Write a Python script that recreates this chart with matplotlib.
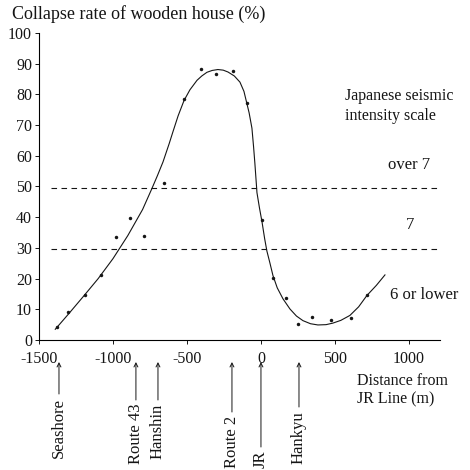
import matplotlib
matplotlib.use("Agg")
import matplotlib.pyplot as plt

plt.rcParams['font.family'] = ['Liberation Serif', 'DejaVu Serif']
plt.rcParams['axes.unicode_minus'] = False

# observed data points (distance from JR line [m], collapse rate [%])
obs_x = [-1378, -1304, -1189, -1081, -980, -885, -790, -655, -520, -405, -304,
         -189, -95, 7, 81, 169, 250, 345, 473, 608, 716]
obs_y = [4.2, 9.2, 14.7, 21.2, 33.7, 39.9, 34, 51, 78.4, 88.2, 86.6,
         87.6, 77.1, 39, 20.3, 13.7, 5.2, 7.5, 6.5, 7.2, 14.7]

# fitted curve
curve_x = [-1390, -1300, -1200, -1100, -1000, -900, -800, -740, -700, -662, -620,
           -595, -560, -520, -480, -432, -400, -365, -330, -291, -255, -223,
           -180, -142, -115, -95, -80, -61, -50, -41, -27, -10, 7, 25, 40, 61,
           81, 110, 149, 196, 240, 284, 335, 385, 440, 486, 540, 601, 660, 716,
           780, 838]
curve_y = [3.5, 8.5, 14.2, 20, 26.5, 34, 42.5, 49, 53.5, 58, 64,
           67.8, 73, 78, 81.5, 84.6, 86, 87.2, 87.8, 88.1, 87.9, 87.3,
           86, 84, 81, 77, 74, 69, 63, 57.5, 48, 43, 38.5, 33, 29, 25,
           21, 17, 13.4, 10.1, 7.8, 6.3, 5.3, 4.9, 5, 5.5, 6.4, 8, 10.8, 14.5,
           17.8, 21.2]

# seismic intensity boundaries
bound_y = [49.5, 29.5]
zone_labels = ["over 7", "7", "6 or lower"]
zone_x = [1000, 1010, 1100]
zone_y = [56.9, 37.3, 14.7]

# landmarks
land_names = ["Seashore", "Route 43", "Hanshin", "Route 2", "JR", "Hankyu"]
land_x = [-1365, -845, -696, -196, 0, 257]
land_text_top = [398, 404, 404, 416, 451, 411]  # pixel rows for text tops

x_ticks = [-1500, -1000, -500, 0, 500, 1000]
x_tick_labels = ["-1500", "-1000", "-500", "0", "500", "1000"]
y_ticks = [0, 10, 20, 30, 40, 50, 60, 70, 80, 90, 100]

W = H = 470
fig = plt.figure(figsize=(4.7, 4.7), dpi=100)
ax = fig.add_axes([39 / W, (W - 340) / W, (440 - 39) / W, (340 - 33) / H])
ax.set_xlim(-1500, 1210)
ax.set_ylim(0, 100)
ink = '#151515'

ax.plot(curve_x, curve_y, color=ink, lw=0.8)
ax.plot(obs_x, obs_y, 'o', color=ink, ms=2.5, mew=0)
for b in bound_y:
    ax.plot([-1420, 1210], [b, b], color=ink, lw=0.8, ls=(0, (5, 4)))

for sp in ['top', 'right']:
    ax.spines[sp].set_visible(False)
ax.spines['left'].set_linewidth(0.8)
ax.spines['bottom'].set_linewidth(0.8)
ax.set_xticks(x_ticks)
ax.set_xticklabels(x_tick_labels)
ax.set_yticks(y_ticks)
ax.tick_params(axis='both', labelsize=11.5, length=3, width=0.7, colors=ink)
ax.tick_params(axis='y', pad=2)
ax.tick_params(axis='x', pad=5)

fig.text(12 / W, 1 - 14 / H, "Collapse rate of wooden house (%)", fontsize=13,
         ha='left', va='center', color=ink)
fig.text(345 / W, 1 - 106 / H, "Japanese seismic\nintensity scale", fontsize=11.5,
         ha='left', va='center', color=ink, linespacing=1.25)
for lab, zx, zy in zip(zone_labels, zone_x, zone_y):
    ax.text(zx, zy, lab, fontsize=12, ha='center', va='center', color=ink)
fig.text(357 / W, 1 - 390 / H, "Distance from\nJR Line (m)", fontsize=11.5,
         ha='left', va='center', color=ink, linespacing=1.2)

trans = ax.get_xaxis_transform()
px_top = 362
for name, lx, top in zip(land_names, land_x, land_text_top):
    ax.annotate("", xy=(lx, -(px_top - 340) / 307), xycoords=trans,
                xytext=(lx, -(top - 4 - 340) / 307), textcoords=trans,
                arrowprops=dict(arrowstyle='->', lw=0.7, color=ink,
                                shrinkA=0, shrinkB=0, mutation_scale=7),
                annotation_clip=False)
    ax.text(lx, -(top - 340) / 307, name, transform=trans, rotation=90,
            ha='center', va='top', fontsize=12, color=ink, clip_on=False)

fig.savefig("out.png", dpi=100, facecolor='white')
